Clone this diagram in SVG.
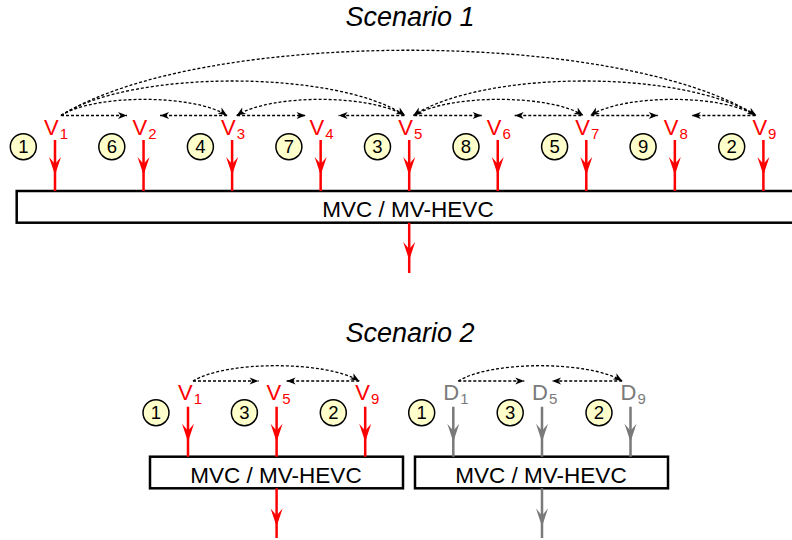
<svg xmlns="http://www.w3.org/2000/svg" xmlns:xlink="http://www.w3.org/1999/xlink" width="792" height="540" viewBox="0 0 792 540">
<style>
.title{font-family:"Liberation Sans",Arial,sans-serif;font-size:27px;font-style:italic;fill:#000;text-anchor:middle}
.v{font-family:"Liberation Sans",Arial,sans-serif;font-size:22px;fill:#ff0000}
.d{font-family:"Liberation Sans",Arial,sans-serif;font-size:22px;fill:#7a7a7a}
.sub{font-size:15px}
.num circle{fill:#ffffcc;stroke:#000;stroke-width:1.5}
.num text{font-family:"Liberation Sans",Arial,sans-serif;font-size:18.5px;fill:#000;text-anchor:middle}
.box rect{fill:#fff;stroke:#000;stroke-width:2.5}
.box text{font-family:"Liberation Sans",Arial,sans-serif;font-size:22.5px;fill:#000;text-anchor:middle}
.dot{fill:none;stroke:#000;stroke-width:1.3;stroke-dasharray:3 2;marker-end:url(#ah)}
.red{stroke:#ff0000;stroke-width:2.5;fill:none}
.gray{stroke:#7a7a7a;stroke-width:2.5;fill:none}
</style>
<defs>
<marker id="ah" markerUnits="userSpaceOnUse" viewBox="-10 -5 11 10" refX="0" refY="0" markerWidth="11" markerHeight="10" orient="auto" overflow="visible">
<path d="M0,0 L-9,-3.6 L-6.5,0 L-9,3.6 Z" fill="#000"/>
</marker>
<path id="rh" d="M0,0 L-6,-18 L0,-11 L6,-18 Z"/>
</defs>

<text class="title" x="410" y="26">Scenario 1</text>
<text class="title" x="410" y="342">Scenario 2</text>

<!-- Scenario 1 nodes -->
<g id="s1-v1"><text class="v" x="44" y="135">V<tspan class="sub" dx="1" dy="4">1</tspan></text><g class="num"><circle cx="23.3" cy="146.7" r="13"/><text x="23.3" y="153.2">1</text></g></g>
<g id="s1-v2"><text class="v" x="132.5" y="135">V<tspan class="sub" dx="1" dy="4">2</tspan></text><g class="num"><circle cx="111.8" cy="146.7" r="13"/><text x="111.8" y="153.2">6</text></g></g>
<g id="s1-v3"><text class="v" x="221.1" y="135">V<tspan class="sub" dx="1" dy="4">3</tspan></text><g class="num"><circle cx="200.4" cy="146.7" r="13"/><text x="200.4" y="153.2">4</text></g></g>
<g id="s1-v4"><text class="v" x="309.6" y="135">V<tspan class="sub" dx="1" dy="4">4</tspan></text><g class="num"><circle cx="288.9" cy="146.7" r="13"/><text x="288.9" y="153.2">7</text></g></g>
<g id="s1-v5"><text class="v" x="398.2" y="135">V<tspan class="sub" dx="1" dy="4">5</tspan></text><g class="num"><circle cx="377.5" cy="146.7" r="13"/><text x="377.5" y="153.2">3</text></g></g>
<g id="s1-v6"><text class="v" x="486.7" y="135">V<tspan class="sub" dx="1" dy="4">6</tspan></text><g class="num"><circle cx="466" cy="146.7" r="13"/><text x="466" y="153.2">8</text></g></g>
<g id="s1-v7"><text class="v" x="575.3" y="135">V<tspan class="sub" dx="1" dy="4">7</tspan></text><g class="num"><circle cx="554.6" cy="146.7" r="13"/><text x="554.6" y="153.2">5</text></g></g>
<g id="s1-v8"><text class="v" x="663.8" y="135">V<tspan class="sub" dx="1" dy="4">8</tspan></text><g class="num"><circle cx="643.1" cy="146.7" r="13"/><text x="643.1" y="153.2">9</text></g></g>
<g id="s1-v9"><text class="v" x="752.4" y="135">V<tspan class="sub" dx="1" dy="4">9</tspan></text><g class="num"><circle cx="731.7" cy="146.7" r="13"/><text x="731.7" y="153.2">2</text></g></g>
<g id="s1-codec" class="box"><rect x="16.7" y="191" width="790" height="31.7"/><text x="408" y="216.7">MVC / MV-HEVC</text></g>

<!-- Scenario 2 nodes -->
<g id="s2-v1"><text class="v" x="178" y="400">V<tspan class="sub" dx="1" dy="4">1</tspan></text><g class="num"><circle cx="156" cy="412.7" r="13"/><text x="156" y="419.2">1</text></g></g>
<g id="s2-v5"><text class="v" x="266.6" y="400">V<tspan class="sub" dx="1" dy="4">5</tspan></text><g class="num"><circle cx="244.4" cy="412.7" r="13"/><text x="244.4" y="419.2">3</text></g></g>
<g id="s2-v9"><text class="v" x="355.2" y="400">V<tspan class="sub" dx="1" dy="4">9</tspan></text><g class="num"><circle cx="333.3" cy="412.7" r="13"/><text x="333.3" y="419.2">2</text></g></g>
<g id="s2-d1"><text class="d" x="443.3" y="400">D<tspan class="sub" dx="1" dy="4">1</tspan></text><g class="num"><circle cx="421.7" cy="412.7" r="13"/><text x="421.7" y="419.2">1</text></g></g>
<g id="s2-d5"><text class="d" x="532" y="400">D<tspan class="sub" dx="1" dy="4">5</tspan></text><g class="num"><circle cx="510.2" cy="412.7" r="13"/><text x="510.2" y="419.2">3</text></g></g>
<g id="s2-d9"><text class="d" x="620.5" y="400">D<tspan class="sub" dx="1" dy="4">9</tspan></text><g class="num"><circle cx="599" cy="412.7" r="13"/><text x="599" y="419.2">2</text></g></g>
<g id="s2-codec-v" class="box"><rect x="150" y="456.7" width="253" height="31.6"/><text x="276" y="482.7">MVC / MV-HEVC</text></g>
<g id="s2-codec-d" class="box"><rect x="415" y="456.7" width="253" height="31.6"/><text x="541" y="482.7">MVC / MV-HEVC</text></g>

<g id="connectors">
<!-- Scenario 1 dotted prediction arrows -->
<path class="dot" d="M61,115.5 C201,28.5 617,28.5 756.4,115.5"/>
<path class="dot" d="M61,115.5 C130,69.5 336,69.5 405.2,115.5"/>
<path class="dot" d="M755.4,115.5 C684,69.5 484,69.5 413.2,115.5"/>
<path class="dot" d="M61,115.5 C94,94 194,94 227.1,115.5"/>
<path class="dot" d="M404.2,115.5 C370,94 270,94 236.6,115.5"/>
<path class="dot" d="M414.2,115.5 C448,94 550,94 583.3,115.5"/>
<path class="dot" d="M755.4,115.5 C722,94 624,94 590.3,115.5"/>
<path class="dot" d="M61,115.5 H127"/>
<path class="dot" d="M227.1,115.5 H160"/>
<path class="dot" d="M237.1,115.5 H305.6"/>
<path class="dot" d="M404.2,115.5 H338.6"/>
<path class="dot" d="M414.2,115.5 H481.7"/>
<path class="dot" d="M581.3,115.5 H514.7"/>
<path class="dot" d="M591.3,115.5 H657.8"/>
<path class="dot" d="M755.4,115.5 H691.8"/>

<!-- Scenario 1 input/output arrows -->
<g class="red">
<path d="M55,140V191M143.55,140V191M232.1,140V191M320.65,140V191M409.2,140V191M497.75,140V191M586.3,140V191M674.85,140V191M763.4,140V191"/>
<path d="M409.2,222.7V273"/>
</g>
<g fill="#ff0000">
<use xlink:href="#rh" x="55" y="175"/>
<use xlink:href="#rh" x="143.55" y="175"/>
<use xlink:href="#rh" x="232.1" y="175"/>
<use xlink:href="#rh" x="320.65" y="175"/>
<use xlink:href="#rh" x="409.2" y="175"/>
<use xlink:href="#rh" x="497.75" y="175"/>
<use xlink:href="#rh" x="586.3" y="175"/>
<use xlink:href="#rh" x="674.85" y="175"/>
<use xlink:href="#rh" x="763.4" y="175"/>
<use xlink:href="#rh" x="409.2" y="260"/>
</g>

<!-- Scenario 2 dotted arrows -->
<path class="dot" d="M193,381 C226,360.6 326,360.6 359.2,381"/>
<path class="dot" d="M193,381 H258.6"/>
<path class="dot" d="M359.2,381 H286.6"/>
<path class="dot" d="M458.3,381 C491,360.6 589,360.6 622.2,381"/>
<path class="dot" d="M458.3,381 H524.3"/>
<path class="dot" d="M622.2,381 H552"/>

<!-- Scenario 2 input/output arrows -->
<g class="red">
<path d="M188,406.7V456.7M276.6,406.7V456.7M365.2,406.7V456.7"/>
<path d="M276.6,488.3V538"/>
</g>
<g fill="#ff0000">
<use xlink:href="#rh" x="188" y="441.7"/>
<use xlink:href="#rh" x="276.6" y="441.7"/>
<use xlink:href="#rh" x="365.2" y="441.7"/>
<use xlink:href="#rh" x="276.6" y="526.5"/>
</g>
<g class="gray">
<path d="M453.3,406.7V456.7M542,406.7V456.7M630.5,406.7V456.7"/>
<path d="M542,488.3V538"/>
</g>
<g fill="#7a7a7a">
<use xlink:href="#rh" x="453.3" y="441.7"/>
<use xlink:href="#rh" x="542" y="441.7"/>
<use xlink:href="#rh" x="630.5" y="441.7"/>
<use xlink:href="#rh" x="542" y="526.5"/>
</g>
</g>
</svg>
